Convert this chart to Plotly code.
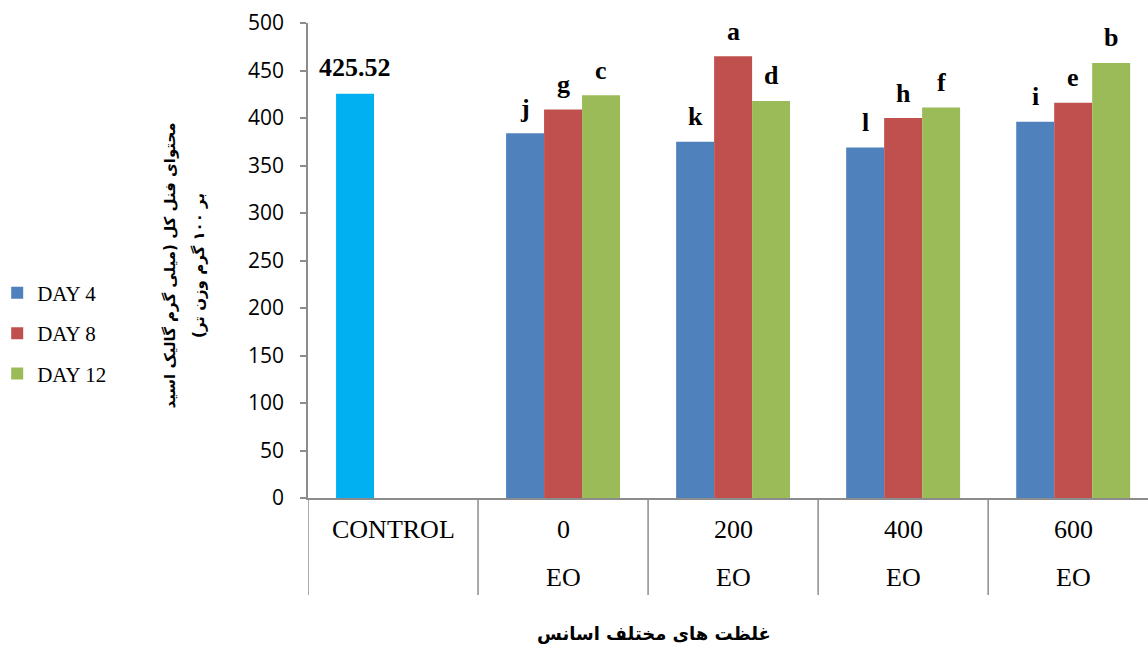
import plotly.graph_objects as go

# Category keys, first-row labels and second-row labels
categories = ["CONTROL", "0", "200", "400", "600"]
sub_labels = ["", "EO", "EO", "EO", "EO"]
treatments = ["0", "200", "400", "600"]

control_value = 425.52
day4 = [384, 375, 369, 396]
day8 = [409, 465, 400, 416]
day12 = [424, 418, 411, 458]

letters4 = ["j", "k", "l", "i"]
letters8 = ["g", "a", "h", "e"]
letters12 = ["c", "d", "f", "b"]

series_names = ["DAY 4", "DAY 8", "DAY 12"]
series_values = [day4, day8, day12]
series_letters = [letters4, letters8, letters12]
series_colors = ["#4F81BD", "#C0504D", "#9BBB59"]
control_color = "#00B0F0"

BARGAP = 0.33
SLOT = (1 - BARGAP) / 3  # width of one bar in category units

fig = go.Figure()

# control bar shares the first slot of the group
fig.add_trace(go.Bar(
    x=["CONTROL"], y=[control_value], marker_color=control_color,
    offsetgroup="g0", showlegend=False, marker_line_width=0,
))
for i, (name, vals, col) in enumerate(zip(series_names, series_values, series_colors)):
    fig.add_trace(go.Bar(
        x=treatments, y=vals, name=name, marker_color=col,
        offsetgroup=f"g{i}", legendgroup=name, marker_line_width=0,
    ))

annotations = []
label_font = dict(family="Liberation Serif", size=26, color="black")

# value label above the control bar
annotations.append(dict(
    x=0 - SLOT, y=control_value, xref="x", yref="y", text="<b>%.2f</b>" % control_value,
    showarrow=False, yanchor="middle", yshift=26, font=label_font,
))
# significance letters above each bar
for i, (vals, lets) in enumerate(zip(series_values, series_letters)):
    for j, (v, l) in enumerate(zip(vals, lets)):
        annotations.append(dict(
            x=categories.index(treatments[j]) + (i - 1) * SLOT, y=v, xref="x", yref="y",
            text=f"<b>{l}</b>", showarrow=False, yanchor="middle", yshift=25,
            font=label_font,
        ))

# two-row category labels
cat_font = dict(family="Liberation Serif", size=26, color="black")
for k, (c, s) in enumerate(zip(categories, sub_labels)):
    annotations.append(dict(x=k, y=-0.067, xref="x", yref="paper", text=c,
                            showarrow=False, yanchor="middle", font=cat_font))
    if s:
        annotations.append(dict(x=k, y=-0.168, xref="x", yref="paper", text=s,
                                showarrow=False, yanchor="middle", font=cat_font))

# axis titles (Persian); RLM keeps the closing parenthesis on the RTL side
RLM = "\u200f"
ytitle_font = dict(family="DejaVu Sans", size=15, color="black")
xtitle_font = dict(family="DejaVu Sans", size=18, color="black")
annotations.append(dict(
    x=-0.164, y=0.49, xref="paper", yref="paper", textangle=-90,
    text=f"<b>{RLM}محتوای فنل کل (میلی گرم گالیک اسید{RLM}</b>", showarrow=False,
    xanchor="center", yanchor="middle", font=ytitle_font,
))
annotations.append(dict(
    x=-0.129, y=0.49, xref="paper", yref="paper", textangle=-90,
    text=f"<b>{RLM}بر ۱۰۰ گرم وزن تر){RLM}</b>", showarrow=False,
    xanchor="center", yanchor="middle", font=ytitle_font,
))
annotations.append(dict(
    x=0.412, y=-0.286, xref="paper", yref="paper",
    text="<b>غلظت های مختلف اسانس</b>", showarrow=False,
    xanchor="center", yanchor="middle", font=xtitle_font,
))

# vertical dividers between categories below the axis
shapes = []
for b in [-0.5, 0.5, 1.5, 2.5, 3.5]:
    shapes.append(dict(type="line", xref="x", yref="paper", x0=b, x1=b,
                       y0=0, y1=-0.204, line=dict(color="#8C8C8C", width=1.5)))

fig.update_layout(
    width=1148, height=648,
    margin=dict(l=308, r=0, t=23, b=150, autoexpand=False),
    paper_bgcolor="white", plot_bgcolor="white",
    barmode="group", bargap=BARGAP, bargroupgap=0,
    annotations=annotations, shapes=shapes,
    legend=dict(
        x=-0.37, y=0.347, xanchor="left", yanchor="middle",
        font=dict(family="Liberation Serif", size=21, color="black"),
        traceorder="grouped", tracegroupgap=10, bgcolor="rgba(0,0,0,0)",
    ),
    xaxis=dict(
        type="category", categoryorder="array", categoryarray=categories,
        range=[-0.5, 4.44], showticklabels=False, ticks="",
        showline=True, linecolor="#8C8C8C", linewidth=1.5, showgrid=False, zeroline=False,
    ),
    yaxis=dict(
        range=[0, 500], dtick=50, tick0=0, showgrid=False, zeroline=False,
        showline=True, linecolor="#8C8C8C", linewidth=1.5,
        ticks="outside", ticklen=6, tickcolor="#8C8C8C", tickwidth=1.5,
        ticklabelstandoff=12,
        tickfont=dict(family="Open Sans", size=21, color="black"),
    ),
)

fig.write_html("out.html")
